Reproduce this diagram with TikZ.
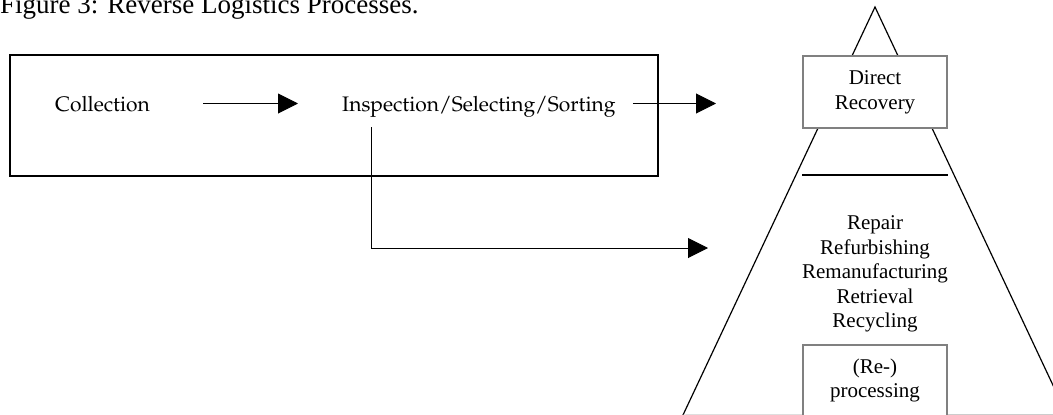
\documentclass[tikz,border=0pt]{standalone}
\usepackage[T1]{fontenc}
\usepackage{fontspec}
\setmainfont{Liberation Serif}
\usetikzlibrary{arrows.meta,positioning}
\newcommand\palfont{\usefont{T1}{ppl}{m}{n}}
\begin{document}
\begin{tikzpicture}[x=1pt,y=-1pt,
  arr/.style={line width=1pt,-{Triangle[length=20pt,width=20pt]}},
  mainframe/.style={draw,line width=1.6pt,inner sep=0pt},
  paltext/.style={inner sep=0pt,text height=15pt,text depth=0pt,font=\palfont\fontsize{21}{25}\selectfont},
  pyr/.style={line width=1.2pt},
  graybox/.style={draw=black!50,line width=1.5pt,fill=white,inner sep=0pt},
  tnr/.style={align=center,inner sep=0pt,font=\fontsize{21}{24.5}\selectfont}]
\useasboundingbox (0,0) rectangle (1053,415);
% title
\node[anchor=base west,inner sep=0pt,font=\fontsize{27}{31}\selectfont] (title) at (0,13) {Figure 3: Reverse Logistics Processes.};
% left frame
\node[mainframe,minimum width=648pt,minimum height=121pt] (frame) at (334,115.5) {};
\node[paltext,anchor=west] (coll) at (55,103.5) {Collection};
\node[paltext,anchor=west] (insp) at (342,103.5) {Inspection/Selecting/Sorting};
% pyramid
\coordinate (apex) at (875,7);
\coordinate (bl) at (683,415);
\coordinate (br) at (1067,415);
\begin{scope}
  \clip (0,0) rectangle (1053,415);
  \draw[pyr] (bl) -- (apex) -- (br);
  \draw[black!20,line width=1pt] (bl) -- (1060,414.5);
\end{scope}
\node[graybox,minimum width=144pt,minimum height=72pt] (dr) at (875,92) {};
\node[tnr] (drtext) at (875,92.5) {Direct\\Recovery};
\draw[pyr,line width=1.4pt] (dr.west |- 0,175) coordinate (divl) -- (dr.east |- 0,175) coordinate (divr);
\node[tnr] (procs) at (875,274) {Repair\\Refurbishing\\Remanufacturing\\Retrieval\\Recycling};
\node[graybox,minimum width=144pt,minimum height=96pt,anchor=north] (rp) at (875,344) {};
\node[tnr] (rptext) at (875,380.5) {(Re-)\\processing};
% connectors
\coordinate (drin) at (716,103.5);
\coordinate (procin) at (708,248);
\draw[arr] ([xshift=53pt]coll.east) -- ([xshift=-44pt]insp.west);
\draw[arr] ([xshift=17pt]insp.east) -- (drin);
\draw[arr] ([shift={(29,23.5)}]insp.west) |- (procin);
\end{tikzpicture}
\end{document}
